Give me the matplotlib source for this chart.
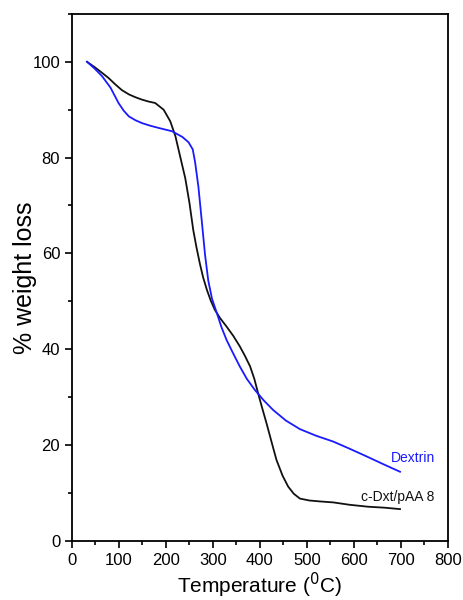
import matplotlib.pyplot as plt
from matplotlib.ticker import MultipleLocator

plt.rcParams['font.family'] = ['Liberation Sans', 'DejaVu Sans']

# c-Dxt/pAA 8 (black)
temp_cdxt = [32, 48, 64, 78, 92, 106, 121, 135, 149, 163, 177, 195, 209, 220, 230, 241,
             250, 258, 265, 272, 279, 287, 295, 304, 315, 329, 343, 357, 368, 379, 388,
             396, 405, 414, 425, 435, 448, 460, 472, 485, 505, 528, 556, 591, 630, 665, 698]
wl_cdxt = [100, 98.9, 97.7, 96.6, 95.3, 94.1, 93.2, 92.6, 92.1, 91.7, 91.4, 90.0, 87.6, 84.5, 80.3, 75.7,
           70.5, 64.9, 61.2, 57.9, 55, 52.4, 50.2, 48.2, 46.5, 44.7, 42.8, 40.6, 38.6, 36.4, 33.8,
           30.8, 27.6, 24.5, 20.5, 16.9, 13.6, 11.3, 9.8, 8.8, 8.4, 8.2, 8.0, 7.5, 7.1, 6.9, 6.6]

# Dextrin (blue)
temp_dex = [32, 48, 64, 82, 99, 110, 121, 135, 149, 165, 184, 213, 235, 248, 257, 262,
            269, 276, 283, 290, 298, 308, 318, 329, 343, 357, 372, 389, 408, 428, 455,
            485, 520, 556, 591, 627, 662, 698]
wl_dex = [100, 98.6, 97.0, 94.6, 91.4, 89.8, 88.6, 87.8, 87.2, 86.7, 86.2, 85.5, 84.3, 83.2, 81.7, 79,
          73.9, 66.9, 59.8, 54.3, 50.5, 47.6, 44.6, 41.9, 39.1, 36.4, 33.8, 31.5, 29.3, 27.3, 25.1,
          23.3, 21.9, 20.7, 19.2, 17.6, 16.0, 14.4]

fig = plt.figure(figsize=(4.63, 6), dpi=100)
ax = fig.add_axes([0.1555, 0.0988, 0.812, 0.878])

ax.plot(temp_cdxt, wl_cdxt, color='#111111', lw=1.3)
ax.plot(temp_dex, wl_dex, color='#1a1aff', lw=1.3)

ax.text(772, 17.3, 'Dextrin', color='#1a1aff', fontsize=10, ha='right', va='center')
ax.text(772, 9.2, 'c-Dxt/pAA 8', color='#111111', fontsize=10, ha='right', va='center')

ax.set_xlim(0, 800)
ax.set_ylim(0, 110)
ax.xaxis.set_major_locator(MultipleLocator(100))
ax.xaxis.set_minor_locator(MultipleLocator(50))
ax.yaxis.set_major_locator(MultipleLocator(20))
ax.yaxis.set_minor_locator(MultipleLocator(10))
ax.tick_params(which='major', direction='out', length=5, width=1.2, labelsize=12)
ax.tick_params(which='minor', direction='out', length=3, width=1.2)
for s in ax.spines.values():
    s.set_linewidth(1.3)

ax.set_xlabel('Temperature ($^0$C)', fontsize=15, labelpad=2)
ax.set_ylabel('% weight loss', fontsize=18, labelpad=-3)

fig.savefig('out.png', dpi=100)
